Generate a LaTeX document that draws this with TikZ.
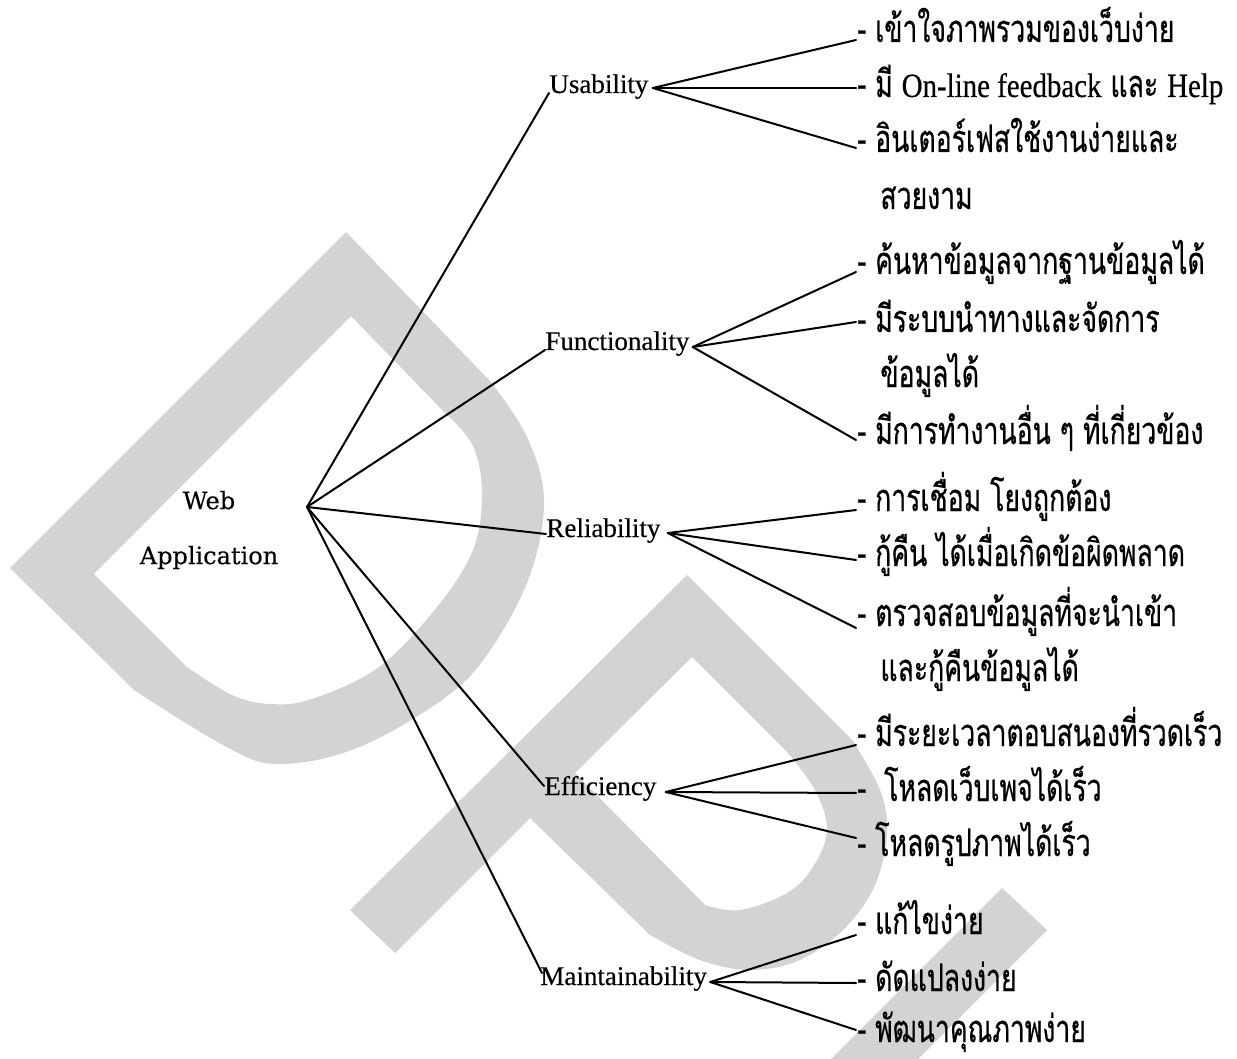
\documentclass[tikz,border=0pt]{standalone}
\usepackage{fontspec}
\setmainfont[FakeBold=0.4]{Liberation Serif}
\newfontfamily\thaifont[Script=Thai,FakeStretch=0.70,FakeBold=0.5]{Loma}
\newfontfamily\latfont[FakeStretch=0.85,FakeBold=0.4]{Liberation Serif}
\newfontfamily\rootfont[FakeBold=0.3]{DejaVu Serif}
\usetikzlibrary{calc}
\definecolor{wmgray}{RGB}{211,211,211}
\newcommand{\lat}[1]{{\fontsize{17pt}{20pt}\latfont #1}}

\begin{document}
\begin{tikzpicture}[x=0.5pt,y=-0.5pt,
  link/.style={line width=1pt,line cap=round},
  wm/.style={fill=wmgray,even odd rule},
  rootlabel/.style={inner sep=0pt,align=center,
    font=\fontsize{12pt}{27.5pt}\rootfont},
  catlabel/.style={inner sep=0pt,anchor=base west,
    font=\fontsize{13.5pt}{15pt}\selectfont},
  leaf/.style={inner sep=0pt,anchor=base west,
    font=\fontsize{19pt}{22pt}\thaifont}]

\useasboundingbox (0,0) rectangle (1237,1059);
\fill[white] (0,0) rectangle (1237,1059);
\clip (0,0) rectangle (1237,1059);

% background mark: teardrop band
\fill[wm] (346,232) -- (10,568) -- (134,690)
  -- plot[smooth,tension=0.6] coordinates {(134,690) (223,745) (277,764) (357,748)
     (446,697) (491,649) (530,575) (544,500) (527,437) (491,382)} -- cycle
  (351,316) -- (446,414)
  -- plot[smooth,tension=0.6] coordinates {(446,414) (473,446) (482,494) (473,550)
     (437,607) (379,667) (312,699) (270,704) (232,695) (187,667)} -- (94,574) -- cycle;
% background mark: looped band with stem
\fill[wm] (350,910) -- (687,575) -- (853,741)
  -- plot[smooth,tension=0.6] coordinates {(853,741) (880,790) (887,833) (875,885)
     (845,928) (800,960) (750,970) (700,960) (650,935)} -- (530,818) -- (395,953) -- cycle
  (692,657) -- (787,752)
  -- plot[smooth,tension=0.6] coordinates {(787,752) (815,790) (827,830) (813,867)
     (787,893) (740,910) (705,905)} -- (575,773) -- cycle;
\fill[wm] (1002,888) -- (1047,930) -- (647,1330) -- (602,1288) -- cycle;

% root
\coordinate (hub) at (307,507);
\node[rootlabel] (root) at (209,530) {Web\\Application};

% categories
\node[catlabel] (usab) at (549,93)  {Usability};
\node[catlabel] (func) at (545,350) {Functionality};
\node[catlabel] (reli) at (546,537) {Reliability};
\node[catlabel] (effi) at (544,795) {Efficiency};
\node[catlabel] (main) at (540,985) {Maintainability};

\coordinate (ub) at ($(usab.base east)+(4,-5)$);
\coordinate (fb) at ($(func.base east)+(3,-3)$);
\coordinate (rb) at ($(reli.base east)+(7,-4)$);
\coordinate (eb) at ($(effi.base east)+(9,-3)$);
\coordinate (mb) at ($(main.base east)+(3,-3)$);

% leaves
\node[leaf] (u1)  at (857,42)  {- เข้าใจภาพรวมของเว็บง่าย};
\node[leaf] (u2)  at (857,97)  {- มี \lat{On-line feedback} และ \lat{Help}};
\node[leaf] (u3)  at (857,152) {- อินเตอร์เฟสใช้งานง่ายและ};
\node[leaf] (u3b) at (880,209) {สวยงาม};

\node[leaf] (f1)  at (857,274) {- ค้นหาข้อมูลจากฐานข้อมูลได้};
\node[leaf] (f2)  at (857,332) {- มีระบบนำทางและจัดการ};
\node[leaf] (f2b) at (880,387) {ข้อมูลได้};
\node[leaf] (f3)  at (857,444) {- มีการทำงานอื่น ๆ ที่เกี่ยวข้อง};

\node[leaf] (r1)  at (857,511) {- การเชื่อม โยงถูกต้อง};
\node[leaf] (r2)  at (857,566) {- กู้คืน ได้เมื่อเกิดข้อผิดพลาด};
\node[leaf] (r3)  at (857,626) {- ตรวจสอบข้อมูลที่จะนำเข้า};
\node[leaf] (r3b) at (880,681) {และกู้คืนข้อมูลได้};

\node[leaf] (e1)  at (857,746) {- มีระยะเวลาตอบสนองที่รวดเร็ว};
\node[leaf] (e2)  at (857,801) {- \ โหลดเว็บเพจได้เร็ว};
\node[leaf] (e3)  at (857,856) {- โหลดรูปภาพได้เร็ว};

\node[leaf] (m1)  at (857,934)  {- แก้ไขง่าย};
\node[leaf] (m2)  at (857,991)  {- ดัดแปลงง่าย};
\node[leaf] (m3)  at (857,1042) {- พัฒนาคุณภาพง่าย};

% connectors from the root
\draw[link] (hub) -- (usab.base west);
\draw[link] (hub) -- (func.base west);
\draw[link] (hub) -- ($(reli.base west)+(0,-3)$);
\draw[link] (hub) -- ($(effi.base west)+(0,-9)$);
\draw[link] (hub) -- ($(main.base west)+(2,-12)$);

% connectors to the leaves
\draw[link] (ub) -- ($(u1.base west)+(-1,-2)$);
\draw[link] (ub) -- ($(u2.base west)+(-1,-9)$);
\draw[link] (ub) -- ($(u3.base west)+(-1,-4)$);

\draw[link] (fb) -- ($(f1.base west)+(-1,-2)$);
\draw[link] (fb) -- ($(f2.base west)+(-1,-10)$);
\draw[link] (fb) -- ($(f3.base west)+(-1,-4)$);

\draw[link] (rb) -- ($(r1.base west)+(-1,-1)$);
\draw[link] (rb) -- ($(r2.base west)+(-1,-6)$);
\draw[link] (rb) -- ($(r3.base west)+(-1,2)$);

\draw[link] (eb) -- ($(e1.base west)+(-1,-1)$);
\draw[link] (eb) -- ($(e2.base west)+(-1,-8)$);
\draw[link] (eb) -- ($(e3.base west)+(-1,-18)$);

\draw[link] (mb) -- ($(m1.base west)+(-1,1)$);
\draw[link] (mb) -- ($(m2.base west)+(-1,-8)$);
\draw[link] (mb) -- ($(m3.base west)+(-1,-12)$);
\end{tikzpicture}
\end{document}
